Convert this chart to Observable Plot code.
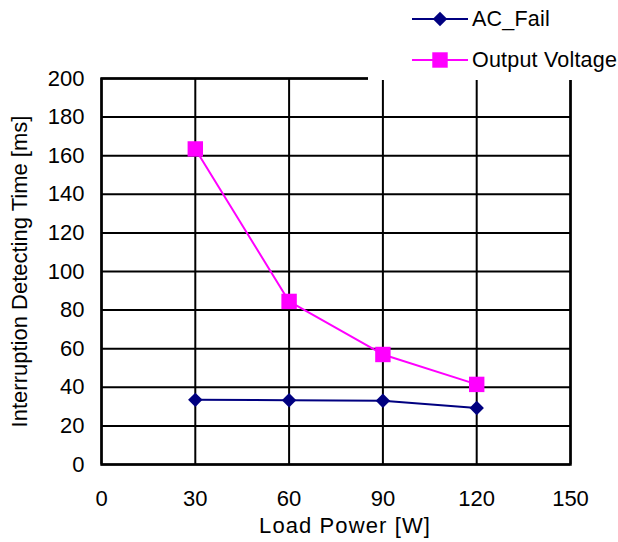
<!DOCTYPE html>
<html>
<head>
<meta charset="utf-8">
<script src="https://cdn.jsdelivr.net/npm/d3@7"></script>
<script src="https://cdn.jsdelivr.net/npm/@observablehq/plot@0.6"></script>
<style>
  html, body { margin: 0; padding: 0; background: #fff; }
  #wrap { position: relative; width: 618px; height: 542px; font-family: "Liberation Sans", Arial, sans-serif; }
  #legend { position: absolute; left: 368px; top: 0; width: 250px; height: 80px; background: #fff; }
  .item { position: absolute; left: 44px; height: 24px; display: flex; align-items: center; font-size: 21.5px; letter-spacing: 0.2px; color: #000; white-space: nowrap; }
  .item svg { margin-right: 4px; }
  g[aria-label="x-axis label"] text { letter-spacing: 1.1px; }
</style>
</head>
<body>
<div id="wrap"></div>
<script>
const loads = [30, 60, 90, 120];
const acFail = [33.5, 33.3, 33, 29.3];
const outputVoltage = [163.5, 84.5, 57, 41.5];
const xTicks = [0, 30, 60, 90, 120, 150];
const yTicks = [0, 20, 40, 60, 80, 100, 120, 140, 160, 180, 200];
const seriesNames = ["AC_Fail", "Output Voltage"];
const seriesColors = ["#000080", "#FF00FF"];
const seriesSymbols = ["diamond2", "square"];

const rows = [];
loads.forEach((x, i) => {
  rows.push({load: x, value: acFail[i], series: seriesNames[0]});
  rows.push({load: x, value: outputVoltage[i], series: seriesNames[1]});
});

const font = "Liberation Sans, Arial, sans-serif";

const chart = Plot.plot({
  width: 618,
  height: 542,
  marginLeft: 101,
  marginRight: 48,
  marginTop: 78,
  marginBottom: 78,
  style: {fontFamily: font, fontSize: "22px", background: "white", color: "black"},
  x: {domain: [0, 150]},
  y: {domain: [0, 200]},
  color: {domain: seriesNames, range: seriesColors},
  symbol: {domain: seriesNames, range: seriesSymbols},
  marks: [
    Plot.gridX(xTicks, {stroke: "black", strokeOpacity: 1, strokeWidth: 2}),
    Plot.gridY(yTicks, {stroke: "black", strokeOpacity: 1, strokeWidth: 2}),
    Plot.frame({stroke: "black", strokeWidth: 2.5}),
    Plot.axisX(xTicks, {tickSize: 0, tickPadding: 26, fontSize: 22, label: "Load Power [W]", labelAnchor: "center", labelOffset: 68, labelArrow: "none"}),
    Plot.axisY(yTicks, {tickSize: 0, tickPadding: 17, fontSize: 22, label: "Interruption Detecting Time [ms]", labelAnchor: "center", labelOffset: 90, labelArrow: "none"}),
    Plot.line(rows, {x: "load", y: "value", z: "series", stroke: "series", strokeWidth: 2}),
    Plot.dot(rows.filter(d => d.series === seriesNames[0]), {x: "load", y: "value", symbol: "series", fill: "series", stroke: "none", r: 6.5}),
    Plot.dot(rows.filter(d => d.series === seriesNames[1]), {x: "load", y: "value", symbol: "series", fill: "series", stroke: "none", r: 8.7})
  ]
});

// nudge the x-axis title slightly right, as in the reference
d3.select(chart).selectAll('g[aria-label="x-axis label"]').each(function() {
  const g = d3.select(this);
  const tr = g.attr("transform") || "";
  g.attr("transform", (tr + " translate(9,0)").trim());
});

const wrap = document.getElementById("wrap");
wrap.appendChild(chart);

const legend = document.createElement("div");
legend.id = "legend";
const tops = [7, 48];
seriesNames.forEach((name, i) => {
  const item = document.createElement("div");
  item.className = "item";
  item.style.top = tops[i] + "px";
  const sw = d3.create("svg").attr("width", 56).attr("height", 20);
  sw.append("line").attr("x1", 0).attr("x2", 56).attr("y1", 10).attr("y2", 10)
    .attr("stroke", seriesColors[i]).attr("stroke-width", 2);
  const sym = i === 0 ? d3.symbol(d3.symbolDiamond2, 133) : d3.symbol(d3.symbolSquare, 238);
  sw.append("path").attr("d", sym()).attr("transform", "translate(28,10)").attr("fill", seriesColors[i]);
  item.appendChild(sw.node());
  const t = document.createElement("span");
  t.textContent = name;
  item.appendChild(t);
  legend.appendChild(item);
});
wrap.appendChild(legend);
</script>
</body>
</html>
